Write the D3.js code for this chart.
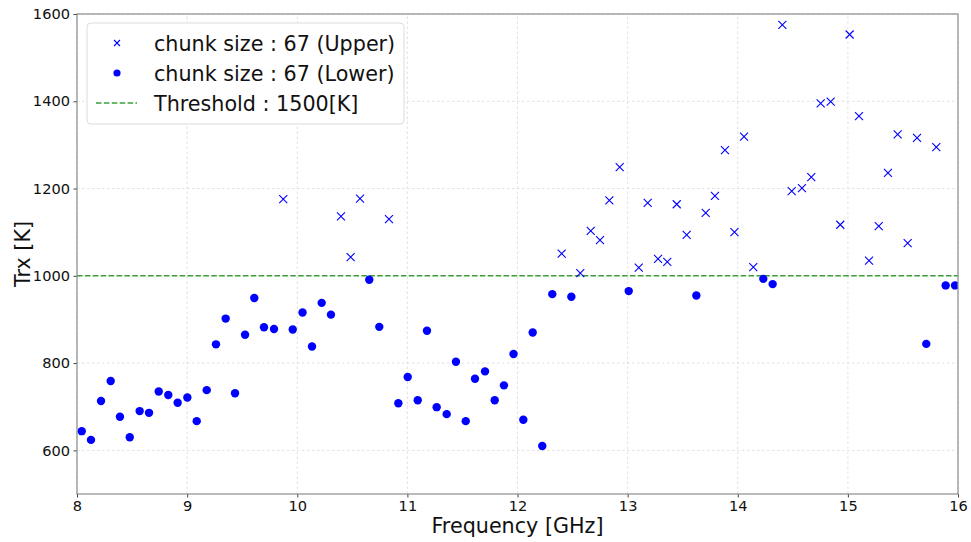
<!DOCTYPE html>
<html><head><meta charset="utf-8">
<script src="https://cdn.jsdelivr.net/npm/d3@7"></script>
<style>body{margin:0;background:#fff;} svg{display:block;font-family:"DejaVu Sans",sans-serif;}</style>
</head><body>
<svg id="chart" width="971" height="542"></svg>
<script>
// Upper (crosses): [frequency GHz, Trx K]
const upperFreq = [9.873,10.397,10.485,10.570,10.833,12.401,12.570,12.665,12.749,12.834,12.928,13.101,13.182,13.276,13.360,13.446,13.536,13.709,13.793,13.884,13.970,14.057,14.141,14.405,14.490,14.583,14.668,14.753,14.844,14.931,15.016,15.101,15.192,15.280,15.364,15.452,15.543,15.628,15.803];
const upperTrx  = [1176,1136,1043,1177,1130,1051,1006,1103,1082,1173,1249,1019,1167,1039,1032,1164,1094,1144,1183,1288,1100,1319,1020,1575,1194,1201,1226,1395,1399,1117,1553,1366,1035,1114,1236,1324,1075,1316,1295];
// Lower (dots)
const lowerFreq = [8.043,8.127,8.218,8.306,8.390,8.479,8.569,8.654,8.742,8.829,8.914,9.002,9.087,9.178,9.262,9.350,9.435,9.526,9.610,9.698,9.789,9.959,10.048,10.134,10.222,10.306,10.654,10.745,10.918,11.003,11.094,11.178,11.266,11.357,11.441,11.530,11.614,11.705,11.793,11.877,11.964,12.053,12.138,12.225,12.316,12.489,13.010,13.624,14.232,14.317,15.712,15.888,15.973];
const lowerTrx  = [644,624,713,759,677,630,690,686,735,727,709,721,667,738,843,902,731,865,949,882,878,877,916,838,938,911,991,883,708,768,715,874,699,683,803,667,764,781,715,749,821,670,870,610,958,952,965,955,993,981,844,978,978];
const threshold = 1000;
const xTicks = [8,9,10,11,12,13,14,15,16];
const yTicks = [600,800,1000,1200,1400,1600];
const legendLabels = ["chunk size : 67 (Upper)","chunk size : 67 (Lower)","Threshold : 1500[K]"];

const svg = d3.select("#chart");
const m = {l:77, t:14, r:13, b:48};
const W = 971, H = 542;
const x = d3.scaleLinear().domain([8,16]).range([m.l, W-m.r]);
const y = d3.scaleLinear().domain([500,1600]).range([H-m.b, m.t]);
const green = "#3a9f3a";

// grid
const g = svg.append("g");
g.selectAll(".vg").data(xTicks).join("line")
  .attr("x1",d=>x(d)).attr("x2",d=>x(d)).attr("y1",y(500)).attr("y2",y(1600))
  .attr("stroke","#d9d9d9").attr("stroke-width",0.8).attr("stroke-dasharray","2.5,2.5");
g.selectAll(".hg").data(yTicks).join("line")
  .attr("y1",d=>y(d)).attr("y2",d=>y(d)).attr("x1",x(8)).attr("x2",x(16))
  .attr("stroke","#d9d9d9").attr("stroke-width",0.8).attr("stroke-dasharray","2.5,2.5");

// threshold
svg.append("line").attr("x1",x(8)).attr("x2",x(16)).attr("y1",y(threshold)).attr("y2",y(threshold))
  .attr("stroke",green).attr("stroke-width",1.5).attr("stroke-dasharray","5.5,2.4");

// clip
svg.append("clipPath").attr("id","clip").append("rect")
  .attr("x",x(8)).attr("y",y(1600)).attr("width",x(16)-x(8)).attr("height",y(500)-y(1600));
const pts = svg.append("g").attr("clip-path","url(#clip)");

// lower dots
pts.selectAll(".dot").data(lowerFreq.map((f,i)=>[f,lowerTrx[i]])).join("circle")
  .attr("cx",d=>x(d[0])).attr("cy",d=>y(d[1])).attr("r",4.2).attr("fill","#0000ff");

// upper crosses
const s = 4;
pts.selectAll(".cross").data(upperFreq.map((f,i)=>[f,upperTrx[i]])).join("path")
  .attr("d",d=>{const cx=x(d[0]),cy=y(d[1]);return `M${cx-s},${cy-s}L${cx+s},${cy+s}M${cx-s},${cy+s}L${cx+s},${cy-s}`;})
  .attr("stroke","#0000ff").attr("stroke-width",1.1).attr("fill","none");

// axes
const xAxis = svg.append("g").attr("transform",`translate(0,${y(500)})`)
  .call(d3.axisBottom(x).tickValues(xTicks).tickFormat(d3.format("d")).tickSize(3.5).tickPadding(3.5));
const yAxis = svg.append("g").attr("transform",`translate(${x(8)},0)`)
  .call(d3.axisLeft(y).tickValues(yTicks).tickFormat(d3.format("d")).tickSize(3.5).tickPadding(3.5));
[xAxis,yAxis].forEach(a=>{
  a.select(".domain").remove();
  a.selectAll("text").attr("font-size",14.6).attr("fill","#111").attr("font-family","DejaVu Sans");
  a.selectAll("line").attr("stroke","#444");
});

// frame
svg.append("rect").attr("x",x(8)).attr("y",y(1600)).attr("width",x(16)-x(8)).attr("height",y(500)-y(1600))
  .attr("fill","none").attr("stroke","#8c8c8c").attr("stroke-width",1.2);

// axis labels
svg.append("text").attr("x",(x(8)+x(16))/2).attr("y",533).attr("text-anchor","middle")
  .attr("font-size",20.7).attr("fill","#111").text("Frequency [GHz]");
svg.append("text").attr("transform",`translate(30,${(y(500)+y(1600))/2}) rotate(-90)`).attr("text-anchor","middle")
  .attr("font-size",20.7).attr("fill","#111").text("Trx [K]");

// legend
const lg = svg.append("g");
lg.append("rect").attr("x",87).attr("y",23).attr("width",317).attr("height",101).attr("rx",4)
  .attr("fill","#fff").attr("fill-opacity",0.85).attr("stroke","#dcdcdc").attr("stroke-width",1);
const ly = [43,73,103];
lg.append("path").attr("d",`M${117-3},${ly[0]-3}L${117+3},${ly[0]+3}M${117-3},${ly[0]+3}L${117+3},${ly[0]-3}`)
  .attr("stroke","#0000ff").attr("stroke-width",1.1);
lg.append("circle").attr("cx",117).attr("cy",ly[1]).attr("r",3.6).attr("fill","#0000ff");
lg.append("line").attr("x1",96).attr("x2",137).attr("y1",ly[2]).attr("y2",ly[2])
  .attr("stroke",green).attr("stroke-width",1.5).attr("stroke-dasharray","5.5,2.4");
lg.selectAll(".lt").data(legendLabels).join("text")
  .attr("x",154).attr("y",(d,i)=>ly[i]+7.5).attr("font-size",20.7).attr("fill","#111").text(d=>d);
</script>
</body></html>
